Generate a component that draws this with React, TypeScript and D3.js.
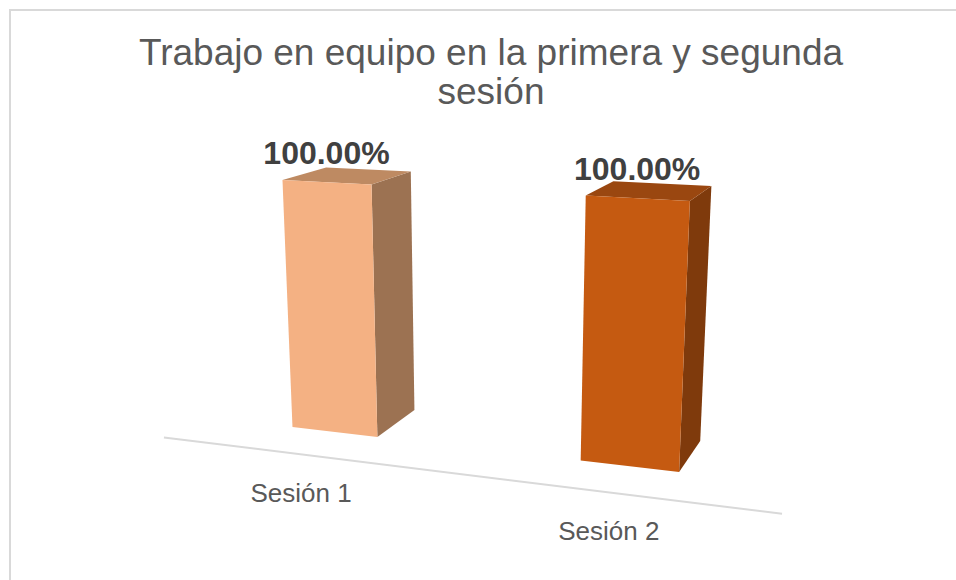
import React from "react";
import * as d3 from "d3";

const categories = ["Sesión 1", "Sesión 2"];
const values = [1.0, 1.0];
const titleLines = ["Trabajo en equipo en la primera y segunda", "sesión"];
const frontColors = ["#F4B183", "#C55A11"];
const sideColors = ["#9C7252", "#7F3A0C"];
const topColors = ["#BE8A62", "#9A4710"];

const W = 956;
const H = 580;

// simple perspective camera (world units; screen y down)
const CX = 473;
const CY = 383;
const F = 1417;
const EX = [0.9377, 0.0939, -0.3344];
const EY = [-0.0031, -0.9605, -0.2785];
const EZ = [0.3475, -0.2624, 0.9002];
const ORIGIN = [-127, 31.1, 1000];

function project(X: number, Y: number, Z: number): [number, number] {
  const c = [0, 1, 2].map((i) => ORIGIN[i] + X * EX[i] + Y * EY[i] + Z * EZ[i]);
  return [CX + (F * c[0]) / c[2], CY + (F * c[1]) / c[2]];
}

const xBand = d3.scaleBand<string>().domain(categories).range([-73.3, 349.1]).padding(0);
const yScale = d3.scaleLinear().domain([0, 1]).range([0, 174.3]);
const BAR_FRAC = 0.31;
const DEPTH = 66.5;
const FLOOR_Z = -51;
const fmt = d3.format(".2%");

function poly(pts: [number, number][]) {
  return "M" + pts.map((p) => p[0].toFixed(2) + "," + p[1].toFixed(2)).join("L") + "Z";
}

export default function App() {
  const bw = xBand.bandwidth();
  const barW = bw * BAR_FRAC;
  const [fx0, fy0] = project(xBand.range()[0], 0, FLOOR_Z);
  const [fx1, fy1] = project(xBand.range()[1], 0, FLOOR_Z);

  return (
    <svg
      width={W}
      height={H}
      style={{ position: "absolute", left: 0, top: 0, background: "#fff" }}
      fontFamily="'Liberation Sans', Arial, sans-serif"
    >
      <rect x={10} y={10} width={W + 10} height={H + 10} fill="#fff" stroke="#d9d9d9" strokeWidth={2} />
      <g fill="#595959" fontSize={37} textAnchor="middle">
        {titleLines.map((t, i) => (
          <text key={i} x={491} y={65 + i * 39}>
            {t}
          </text>
        ))}
      </g>
      <line x1={fx0} y1={fy0} x2={fx1} y2={fy1} stroke="#d9d9d9" strokeWidth={2} />
      {categories.map((cat, i) => {
        const x0 = (xBand(cat) as number) + (bw - barW) / 2;
        const x1 = x0 + barW;
        const h = yScale(values[i]);
        const fbl = project(x0, 0, 0);
        const fbr = project(x1, 0, 0);
        const ftl = project(x0, h, 0);
        const ftr = project(x1, h, 0);
        const bbr = project(x1, 0, DEPTH);
        const btr = project(x1, h, DEPTH);
        const btl = project(x0, h, DEPTH);
        const cx = x0 + barW / 2;
        const lab = project(cx, h, 0);
        const axl = project(cx, 0, FLOOR_Z);
        return (
          <g key={cat}>
            <path d={poly([fbr, bbr, btr, ftr])} fill={sideColors[i]} />
            <path d={poly([ftl, ftr, btr, btl])} fill={topColors[i]} />
            <path d={poly([fbl, fbr, ftr, ftl])} fill={frontColors[i]} />
            <text
              x={lab[0]}
              y={lab[1] - 18}
              textAnchor="middle"
              fontSize={32}
              fontWeight="bold"
              fill="#404040"
            >
              {fmt(values[i])}
            </text>
            <text x={axl[0]} y={axl[1] + 48} textAnchor="middle" fontSize={26} fill="#595959">
              {cat}
            </text>
          </g>
        );
      })}
    </svg>
  );
}
